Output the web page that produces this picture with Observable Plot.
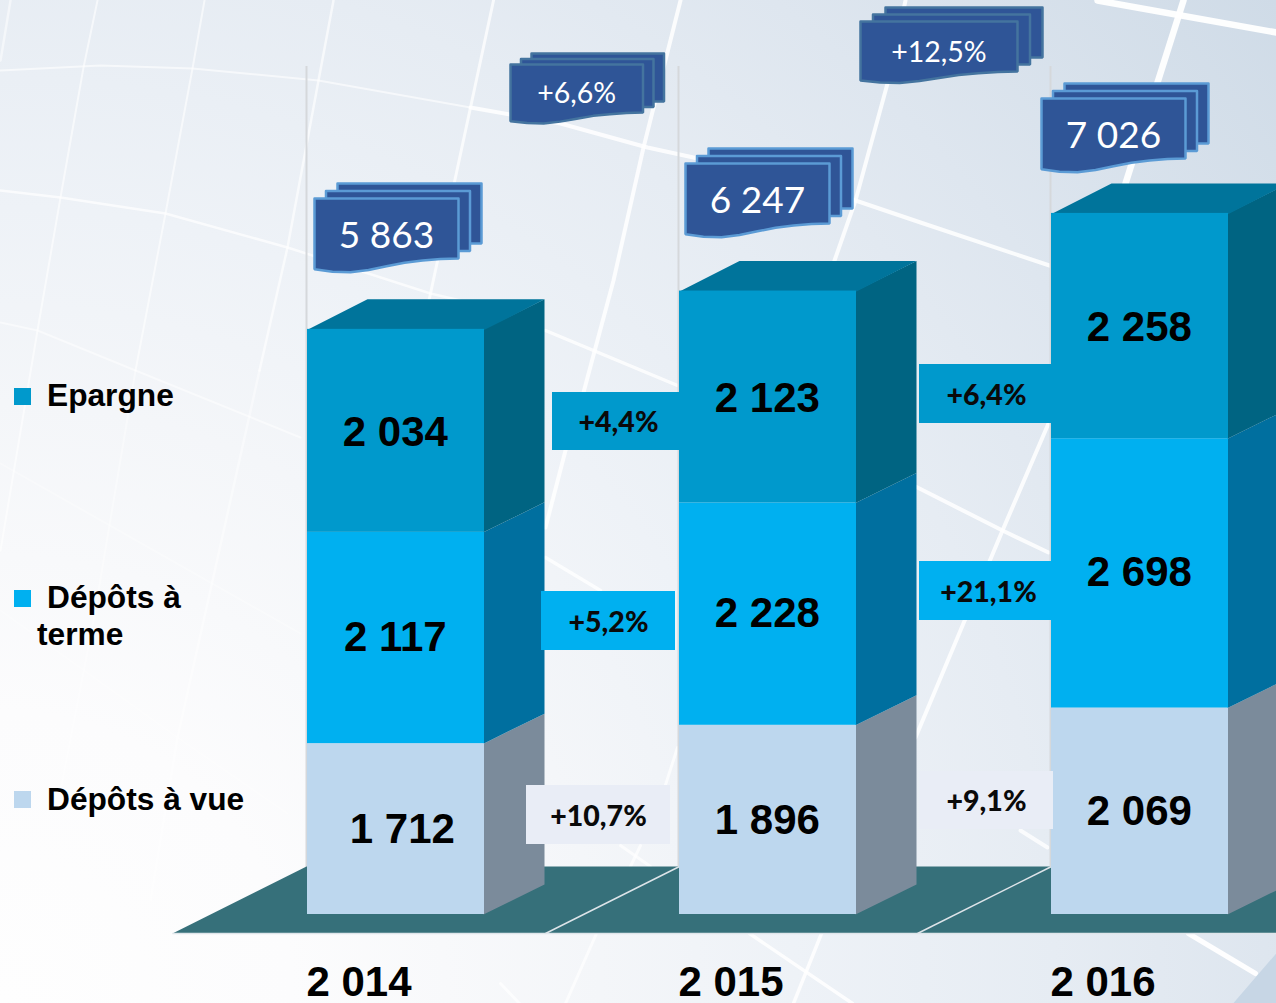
<!DOCTYPE html>
<html lang="fr">
<head>
<meta charset="utf-8">
<script src="https://cdn.jsdelivr.net/npm/d3@7"></script>
<script src="https://cdn.jsdelivr.net/npm/@observablehq/plot@0.6"></script>
<style>
html,body{margin:0;padding:0;background:#fff;overflow:hidden;width:1276px;height:1003px}
</style>
</head>
<body>
<div id="chart"></div>
<script>
// ---- data ----
const years = [2014, 2015, 2016];
const yearLabels = ["2 014", "2 015", "2 016"];
const depotsVue = [1712, 1896, 2069];
const depotsTerme = [2117, 2228, 2698];
const epargne = [2034, 2123, 2258];
const totals = [5863, 6247, 7026];
const vueLabels = ["1 712", "1 896", "2 069"];
const termeLabels = ["2 117", "2 228", "2 698"];
const epargneLabels = ["2 034", "2 123", "2 258"];
const totalLabels = ["5 863", "6 247", "7 026"];
const vueGrowth = ["+10,7%", "+9,1%"];
const termeGrowth = ["+5,2%", "+21,1%"];
const epargneGrowth = ["+4,4%", "+6,4%"];
const totalGrowth = ["+6,6%", "+12,5%"];
const legendLabels = ["Epargne", "Dépôts à vue"];

// ---- layout: picture pixels converted to the two linear scales ----
const W = 1276, H = 1003;
const unitPx = 0.0998;
const X = px => 2014 + (px - 307) / 372;
const Y = py => (914 - py) / unitPx;
const barW = 177 / 372, depthX = 60 / 372, depthY = 30 / unitPx;

const colors = {
  epargne: {front: "#0099cc", side: "#006482", top: "#00749b"},
  terme: {front: "#00b0f0", side: "#006f9f", top: "#0080b0"},
  vue: {front: "#bdd7ee", side: "#7b8b9b", top: "#9ab"}
};

const segments = years.flatMap((year, i) => {
  const a = depotsVue[i], b = a + depotsTerme[i], c = b + epargne[i];
  return [
    {year, y1: 0, y2: a, c: colors.vue, label: vueLabels[i], tx: i === 0 ? 6.3 : -0.7, ty: 0.5},
    {year, y1: a, y2: b, c: colors.terme, label: termeLabels[i], tx: -0.7, ty: -0.7},
    {year, y1: b, y2: c, c: colors.epargne, label: epargneLabels[i], tx: -0.7, ty: 1.5}
  ];
});

// polygons through the scales
function polys(list, opts) {
  const pts = list.flatMap((p, id) => [...p.pts, p.pts[0], p.pts[1]].map(([x, y]) => ({x, y, id, fill: p.fill, stroke: p.stroke})));
  return Plot.line(pts, {x: "x", y: "y", z: "id", fill: "fill", stroke: d => d.stroke ?? "none", curve: "linear", ...opts});
}

const sides = segments.map(s => {
  const r = s.year + barW;
  const lap = 1 / 372;
  return {fill: s.c.side, pts: [[r - lap, s.y1], [r + depthX, s.y1 + depthY], [r + depthX, s.y2 + depthY], [r - lap, s.y2]]};
});
const tops = years.map(year => {
  const t = d3.max(segments.filter(s => s.year === year), s => s.y2);
  return {fill: colors.epargne.top, pts: [[year, t - 5], [year + barW, t - 5], [year + barW + depthX, t + depthY], [year + depthX, t + depthY]]};
});

// wavy "document stack" callouts
const waveShape = [[1, 1], [.875, 1.01], [.75, 1.035], [.625, 1.07], [.5, 1.13], [.375, 1.19], [.25, 1.23], [.125, 1.22], [0, 1.18]];
function docStack(left, top, w, h, ox, oy, stroke, label, fs, tx = 0) {
  const back = (l, t) => ({fill: "#2f5597", stroke, pts: [[X(l), Y(t)], [X(l + w), Y(t)], [X(l + w), Y(t + h)], [X(l), Y(t + h)]]});
  const front = {fill: "#2f5597", stroke, pts: [[X(left), Y(top)], [X(left + w), Y(top)],
    ...waveShape.map(([f, k]) => [X(left + f * w), Y(top + h * k)])]};
  return {shapes: [back(left + 2 * ox, top + 2 * oy), back(left + ox, top + oy), front],
    text: {x: X(left + w / 2 + tx), y: Y(top + h * 0.62), label, fs}};
}
const stacks = [
  docStack(314, 198, 144, 60, 11.5, -7.5, "#5b9bd5", totalLabels[0], 37),
  docStack(685, 163, 144, 60, 11.5, -7.5, "#5b9bd5", totalLabels[1], 37),
  docStack(1041, 98, 144, 60, 11.5, -7.5, "#5b9bd5", totalLabels[2], 37),
  docStack(510, 64, 132.5, 48, 10.5, -5.5, "#44749f", totalGrowth[0], 28.5),
  docStack(860, 21, 157, 50, 12.5, -7, "#44749f", totalGrowth[1], 28.5)
];

// growth boxes between the bars
const boxes = [
  {l: 552, t: 392, r: 680, b: 450, fill: colors.epargne.front, label: epargneGrowth[0], cx: 618},
  {l: 541, t: 591, r: 675, b: 650, fill: colors.terme.front, label: termeGrowth[0], cx: 608},
  {l: 526, t: 785, r: 670, b: 844, fill: "#e9edf6", label: vueGrowth[0], cx: 598},
  {l: 919, t: 364, r: 1052, b: 423, fill: colors.epargne.front, label: epargneGrowth[1], cx: 986},
  {l: 919, t: 561, r: 1052, b: 620, fill: colors.terme.front, label: termeGrowth[1], cx: 988},
  {l: 919, t: 771, r: 1053, b: 829, fill: "#e9edf6", label: vueGrowth[1], cx: 986}
];

// decorative background grid (picture pixels): [width, opacity, points...]
const bgPaths = [
  [2.5, .5, [10, 0], [0, 60]],
  [2, .6, [97, 0], [83, 67], [60, 197], [37, 330], [0, 550]],
  [2, .6, [204, 0], [192, 68], [165, 213], [135, 370]],
  [2, .4, [135, 370], [93, 620], [60, 790]],
  [2.5, .65, [333, 0], [318, 80], [287, 247], [259, 370]],
  [2.5, .45, [259, 370], [177, 737], [150, 900]],
  [3, .75, [493, 0], [470, 107], [430, 293], [420, 340]],
  [2, .6, [0, 70], [100, 65], [192, 68], [318, 80], [470, 107]],
  [4, .85, [470, 107], [560, 123], [647, 147], [693, 157], [855, 200], [920, 222], [1052, 266]],
  [2.5, .7, [0, 190], [60, 197], [165, 213], [287, 247], [430, 293], [460, 300]],
  [2, .5, [0, 322], [37, 330], [135, 370], [300, 437]],
  [2, .3, [0, 463], [300, 633]],
  [2, .25, [0, 610], [177, 737], [287, 813]],
  [4, .85, [680, 0], [643, 147], [613, 280], [583, 392], [565, 450], [545, 527]],
  [3.5, .8, [545, 330], [593, 350], [677, 385]],
  [3.5, .8, [545, 557], [600, 590]],
  [4, .85, [905, 0], [887, 83], [855, 200], [833, 263]],
  [6.5, .95, [1097, 0], [1276, 32]],
  [6.5, .95, [1183, 0], [1125, 183]],
  [4, .85, [1048, 423], [1002, 530], [915, 737]],
  [4, .85, [915, 486], [1002, 530], [1048, 552]],
  [4, .8, [1020, 830], [1047, 847]],
  [3.5, .85, [749, 933], [852, 1003]],
  [3.5, .85, [821, 933], [793, 1003]],
  [3, .7, [596, 933], [565, 1003]],
  [3, .7, [500, 983], [519, 1003]],
  [5, .95, [1188, 933], [1255, 973]],
  [3, .7, [677, 747], [660, 800]],
  [3, .7, [620, 845], [650, 866]],
  [3, .7, [640, 845], [630, 866]]
];
const bgPoints = bgPaths.flatMap(([w, o, ...pts], id) => pts.map(([x, y]) => ({x: X(x), y: Y(y), id, w, o})));

const floor = [{fill: "#36707a", pts: [[X(172), Y(933)], [X(1280), Y(933)], [X(1280), Y(866)], [X(306), Y(866)]]}];
const corner = [{fill: "#c7d6e5", pts: [[X(1280), Y(948)], [X(1230), Y(1006)], [X(1280), Y(1006)]]}];
const floorEdges = years.slice(1).map(year => ({x1: year, y1: Y(866), x2: year - 134 / 372, y2: Y(933)}));
const legendItems = [
  {t: 388, fill: colors.epargne.front, label: legendLabels[0], cy: 395},
  {t: 590, fill: colors.terme.front, label: "Dépôts à", cy: 597},
  {t: 791, fill: colors.vue.front, label: legendLabels[1], cy: 799}
];
const textBold = {fontFamily: "'Liberation Sans', Arial, sans-serif", fontWeight: 700};

const chart = Plot.plot({
  width: W, height: H, margin: 0,
  x: {type: "linear", domain: [X(0), X(W)], range: [0, W], axis: null},
  y: {type: "linear", domain: [Y(0), Y(H)], range: [0, H], axis: null},
  color: {type: "identity"},
  style: {
    background: "radial-gradient(circle 1623px at 0 100%, #fefefe 0%, #fcfcfd 18%, #f4f6f9 37%, #eef2f7 49%, #e6ecf3 65%, #dee6ef 78%, #cfdbe7 100%)",
    overflow: "hidden"
  },
  marks: [
    Plot.line(bgPoints, {x: "x", y: "y", z: "id", stroke: "#fff", strokeWidth: "w", strokeOpacity: "o", curve: "linear"}),
    polys(corner, {}),
    // thin vertical guides
    Plot.ruleX(years, {x: d => d - 1 / 372, y1: 0, y2: Y(66), stroke: "#d5d8db", strokeWidth: 2}),
    // floor
    polys(floor, {}),
    Plot.link([0], {x1: X(172), x2: X(1276), y1: Y(933), y2: Y(933), stroke: "#dfe5ea", strokeWidth: 1.5}),
    Plot.link(floorEdges, {x1: "x1", y1: "y1", x2: "x2", y2: "y2", stroke: "#dfe5ea", strokeWidth: 1.5}),
    // 3D stacked bars
    polys(sides, {}),
    polys(tops, {}),
    Plot.rect(segments, {x1: "year", x2: d => d.year + barW, y1: "y1", y2: "y2", fill: d => d.c.front}),
    Plot.text(segments, {x: d => d.year + (barW * 372 / 2 + d.tx) / 372, y: d => (d.y1 + d.y2) / 2 - d.ty / unitPx, text: "label", ...textBold, fontSize: 42, fill: "#000"}),
    // growth boxes
    Plot.rect(boxes, {x1: d => X(d.l), x2: d => X(d.r), y1: d => Y(d.t), y2: d => Y(d.b), fill: "fill"}),
    Plot.text(boxes, {x: d => X(d.cx), y: d => Y((d.t + d.b) / 2 + 1.5), text: "label", fontFamily: "Lato, sans-serif", fontWeight: 900, fontSize: 28.5, fill: "#0a0a0a"}),
    // callouts
    polys(stacks.flatMap(s => s.shapes), {strokeWidth: 2.5, strokeLinejoin: "miter"}),
    Plot.text(stacks.map(s => s.text), {x: "x", y: "y", text: "label", fontFamily: "Lato, sans-serif", fontSize: d => d.fs, fill: "#fff"}),
    // year labels
    Plot.text(years.map((y, i) => ({y, label: yearLabels[i]})), {x: d => d.y + 51.5 / 372, y: Y(982), text: "label", ...textBold, fontSize: 42, fill: "#000"}),
    // legend
    Plot.rect(legendItems, {x1: X(14), x2: X(31), y1: d => Y(d.t), y2: d => Y(d.t + 17), fill: "fill"}),
    Plot.text(legendItems, {x: X(46.5), y: d => Y(d.cy), text: "label", textAnchor: "start", ...textBold, fontSize: 31.7, fill: "#000"}),
    Plot.text(["terme"], {x: X(36.5), y: Y(634), text: d => d, textAnchor: "start", ...textBold, fontSize: 31.7, fill: "#000"})
  ]
});
document.getElementById("chart").append(chart);
</script>
</body>
</html>
